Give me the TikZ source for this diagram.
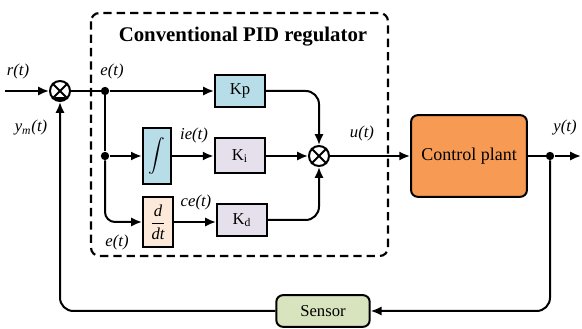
\documentclass[tikz,border=0pt]{standalone}
\usepackage{fontspec}
\setmainfont{Liberation Serif}
\usetikzlibrary{arrows.meta}

\definecolor{gainblue}{HTML}{B7DEE8}
\definecolor{gaingray}{HTML}{E6E0EC}
\definecolor{derpeach}{HTML}{FDE9D9}
\definecolor{plantorange}{HTML}{F79A54}
\definecolor{sensgreen}{HTML}{D7E4BD}

\tikzset{
  blk/.style={draw,line width=1.2pt,inner sep=0pt,align=center},
  sumj/.style={draw,circle,line width=1.2pt,minimum size=12pt,inner sep=0pt},
  dot/.style={circle,fill,inner sep=0pt,minimum size=5pt},
  sig/.style={font=\itshape},
  link/.style={line width=1.2pt,-{Latex[length=6.5pt,width=5.5pt]}},
  wire/.style={line width=1.2pt},
}

\begin{document}
\begin{tikzpicture}[x=0.6pt,y=-0.6pt]
\useasboundingbox (0,0) rectangle (582,329);

%regulator frame
\draw[line width=1.3pt,dash pattern=on 5pt off 3pt,rounded corners=5pt] (91,13) rectangle (388,256);
\node[font=\fontsize{12.5}{14}\selectfont\bfseries] (title) at (243,37){Conventional PID regulator};

%summing junctions
\foreach \n/\x/\y in {s1/60/91, s2/319/156}{
    \node[sumj] (\n) at (\x,\y){};
    \draw[wire] (\n.north west) -- (\n.south east) (\n.north east) -- (\n.south west);
}
\draw[line width=1.5pt] ([xshift=-2.8pt,yshift=2pt]s1.south) -- ([xshift=2.8pt,yshift=2pt]s1.south);

%branch points
\node[dot] (b1) at (105,91){};
\node[dot] (b2) at (105,156){};
\node[dot] (b3) at (550,156){};
\coordinate (rin) at (5,91);
\coordinate (yout) at (581,156);

%blocks
\node[blk,fill=gainblue,minimum width=30pt,minimum height=19.5pt] (kp) at (240,91){Kp};
\node[blk,fill=gainblue,minimum width=17pt,minimum height=34pt] (int) at (157,156){\Large$\displaystyle\int$};
\node[blk,fill=gaingray,minimum width=30.5pt,minimum height=21pt] (ki) at (240,156){K\textsubscript{i}};
\node[blk,fill=derpeach,minimum width=18pt,minimum height=29.5pt] (der) at (158,222){$\displaystyle\frac{\textit{d}}{\textit{dt}}$};
\node[blk,fill=gaingray,minimum width=30pt,minimum height=19.5pt] (kd) at (242,220){K\textsubscript{d}};
\node[blk,fill=plantorange,rounded corners=4pt,minimum width=69.5pt,minimum height=49pt,font=\fontsize{10.8}{12}\selectfont] (plant) at (469,156){Control plant};
\node[blk,fill=sensgreen,rounded corners=4pt,minimum width=56pt,minimum height=19pt] (sensor) at (323,311){Sensor};

%signal labels
\foreach \n/\x/\y/\t in {lr/18/72/r(t), le/112/72/e(t), lie/194/135/ie(t), lce/196/202/ce(t), leb/117/242/e(t), lu/362/133/u(t), ly/565/128/y(t)}{
    \node[sig] (\n) at (\x,\y){\t};
}
\node[sig] (lym) at (31,128){y\textsubscript{m}(t)};

%connections
\draw[link] (rin) -- (s1);
\draw[wire] (s1) -- (b1);
\draw[link] (b1) -- (kp);
\draw[wire] (b1) -- (b2);
\draw[link] (b2) -- (int);
\draw[link,rounded corners=6pt] (b2) |- (der);
\draw[link] (int) -- (ki);
\draw[link] (der.east) -- (der.east -| kd.west);
\draw[link,rounded corners=8pt] (kp) -| (s2);
\draw[link] (ki) -- (s2);
\draw[link,rounded corners=8pt] (kd) -| (s2);
\draw[link] (s2) -- (plant);
\draw[wire] (plant) -- (b3);
\draw[link] (b3) -- (yout);
\draw[link,rounded corners=8pt] (b3) |- (sensor);
\draw[link,rounded corners=8pt] (sensor) -| (s1);

\end{tikzpicture}
\end{document}
